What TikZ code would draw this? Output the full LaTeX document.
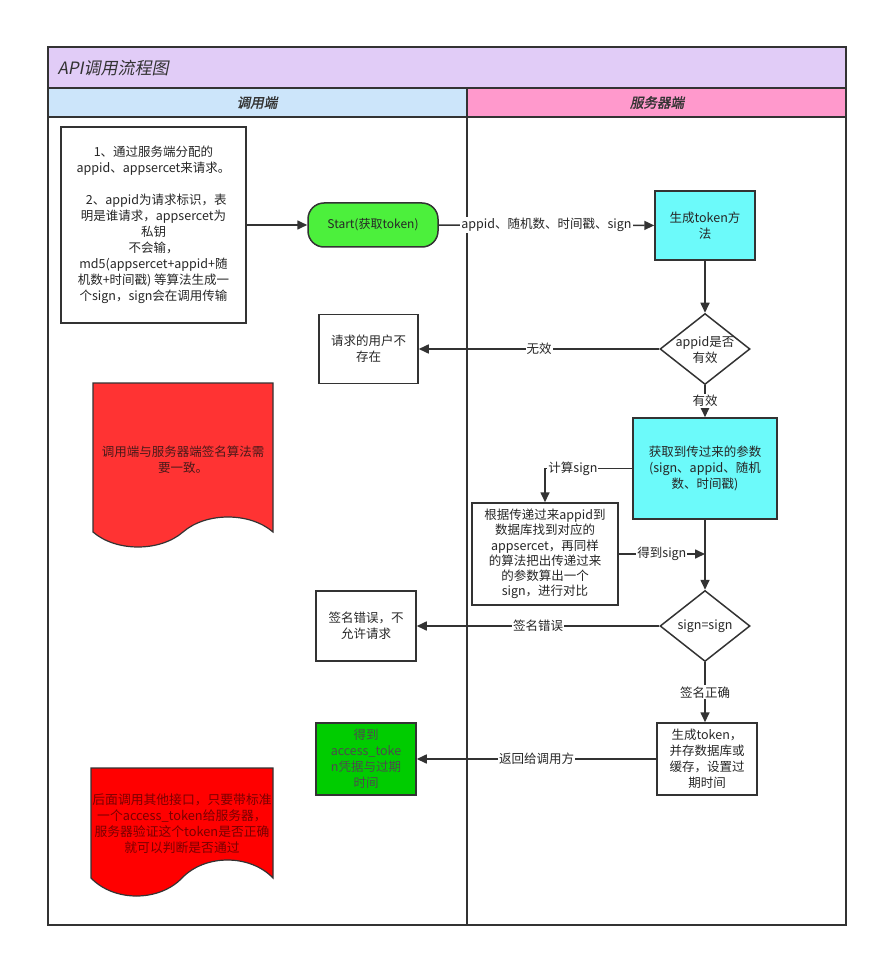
\documentclass[tikz,border=0pt]{standalone}
\usepackage{fontspec}
\setmainfont{Noto Sans CJK SC}
\newfontfamily\cjkit[FakeSlant=0.2]{Noto Sans CJK SC}
\newfontfamily\cjkitb[FakeSlant=0.2,FakeBold=1.5]{Noto Sans CJK SC}
\usetikzlibrary{shapes.geometric,arrows.meta}
\definecolor{titlebg}{HTML}{E1CCF7}
\definecolor{lheadbg}{HTML}{CCE5FA}
\definecolor{rheadbg}{HTML}{FF99CC}
\definecolor{startgreen}{HTML}{4CF03C}
\definecolor{cyanfill}{HTML}{6CFAFA}
\definecolor{okgreen}{HTML}{00CC00}
\definecolor{docred}{HTML}{FF3333}
\definecolor{docredb}{HTML}{FF0000}
\definecolor{linecol}{HTML}{333333}
\definecolor{doctxt}{HTML}{4A1A1A}
\definecolor{doctxtb}{HTML}{7A0000}
\begin{document}
\begin{tikzpicture}[x=1pt,y=-1pt,
  txt/.style={font=\fontsize{12.5}{16}\selectfont, align=center, text=black!85},
  box/.style={txt, draw=linecol, line width=1.5pt, inner sep=0pt},
  dia/.style={diamond, draw=linecol, line width=1.5pt, inner sep=0pt, minimum width=90pt, minimum height=71pt},
  arr/.style={draw=linecol, line width=1.6pt, -{Triangle[length=10pt,width=9pt]}},
  lbl/.style={txt, fill=white, inner sep=1pt},
  frame/.style={draw=linecol, line width=2pt},
  docshape/.style={draw=linecol, line width=1.2pt}]
\useasboundingbox (0,0) rectangle (878,957);
% pool and lanes
\fill[titlebg] (48,47) rectangle (846,88);
\fill[lheadbg] (48,88) rectangle (467,117);
\fill[rheadbg] (467,88) rectangle (846,117);
\draw[frame] (48,88) -- (846,88);
\draw[frame] (48,117) -- (846,117);
\draw[frame] (467,88) -- (467,925);
\draw[frame] (48,47) rectangle (846,925);
\node[anchor=west, font=\cjkit\fontsize{17}{20}\selectfont, text=black!80] (title) at (54,68) {API调用流程图};
\node[font=\cjkitb\fontsize{13.5}{16}\selectfont, text=black!80] (lhead) at (257,102.5) {调用端};
\node[font=\cjkitb\fontsize{13.5}{16}\selectfont, text=black!80] (rhead) at (657,102.5) {服务器端};
% nodes
\node[box, minimum width=185pt, minimum height=196pt] (intro) at (153.5,225) {1、通过服务端分配的\\appid、appsercet来请求。\\[16pt]\ \ 2、appid为请求标识，表\\明是谁请求，appsercet为\\私钥\\不会输，\\md5(appsercet+appid+随\\机数+时间戳) 等算法生成一\\个sign，sign会在调用传输};
\node[box, fill=startgreen, rounded corners=16pt, minimum width=130pt, minimum height=44pt, font=\fontsize{12}{15}\selectfont] (start) at (373,225) {Start(获取token)};
\node[box, fill=cyanfill, minimum width=100pt, minimum height=69pt] (gen) at (705,225.5) {生成token方\\法};
\node[dia] (chk1) at (705,349) {};
\node[txt] (chk1t) at (705,350) {appid是否\\有效};
\node[box, minimum width=99pt, minimum height=69pt] (nouser) at (368.5,349) {请求的用户不\\存在};
\node[box, fill=cyanfill, minimum width=144pt, minimum height=101pt] (params) at (705,468.5) {获取到传过来的参数\\(sign、appid、随机\\数、时间戳)};
\node[box, minimum width=146pt, minimum height=102pt, font=\fontsize{12.5}{15.3}\selectfont] (calc) at (545,554) {根据传递过来appid到\\数据库找到对应的\\appsercet，再同样\\的算法把出传递过来\\的参数算出一个\\sign，进行对比};
\node[dia] (chk2) at (705,626) {};
\node[txt] (chk2t) at (705,626) {sign=sign};
\node[box, minimum width=100pt, minimum height=70pt] (signerr) at (366,626) {签名错误，不\\允许请求};
\node[box, minimum width=100pt, minimum height=72pt] (newtok) at (707,759) {生成token，\\并存数据库或\\缓存，设置过\\期时间};
\node[box, fill=okgreen, minimum width=100pt, minimum height=72pt, text=black!70] (got) at (366,759) {得到\\access\_toke\\n凭据与过期\\时间};
% documents
\draw[docshape, fill=docred] (93,383) -- (273,383) -- (273,532) .. controls (250,512) and (206,512) .. (183,532) .. controls (160,552) and (116,552) .. (93,532) -- cycle;
\node[txt, text=doctxt] (doc1t) at (183,459.5) {调用端与服务器端签名算法需\\要一致。};
\draw[docshape, fill=docredb] (91,768) -- (273,768) -- (273,878) .. controls (250,854) and (205,854) .. (182,878) .. controls (159,902) and (114,902) .. (91,878) -- cycle;
\node[txt, text=doctxtb, font=\fontsize{12.8}{16}\selectfont] (doc2t) at (182,824) {后面调用其他接口，只要带标准\\一个access\_token给服务器，\\服务器验证这个token是否正确\\就可以判断是否通过};
% connectors
\draw[arr] (intro) -- (start);
\draw[arr] (start) -- node[lbl] {appid、随机数、时间戳、sign} (gen);
\draw[arr] (gen) -- (chk1);
\draw[arr] (chk1) -- node[lbl] {无效} (nouser);
\draw[arr] (chk1) -- node[lbl] {有效} (params);
\draw[arr] (params.west) -| node[lbl, pos=0.34] {计算sign} (calc.north);
\draw[arr] (params) -- (chk2);
\coordinate (join) at (params.south |- calc.east);
\draw[arr] (calc) -- node[lbl] {得到sign} (join);
\draw[arr] (chk2) -- node[lbl] {签名错误} (signerr);
\coordinate (newtop) at (chk2.south |- newtok.north);
\draw[arr] (chk2) -- node[lbl] {签名正确} (newtop);
\draw[arr] (newtok) -- node[lbl] {返回给调用方} (got);
\end{tikzpicture}
\end{document}
